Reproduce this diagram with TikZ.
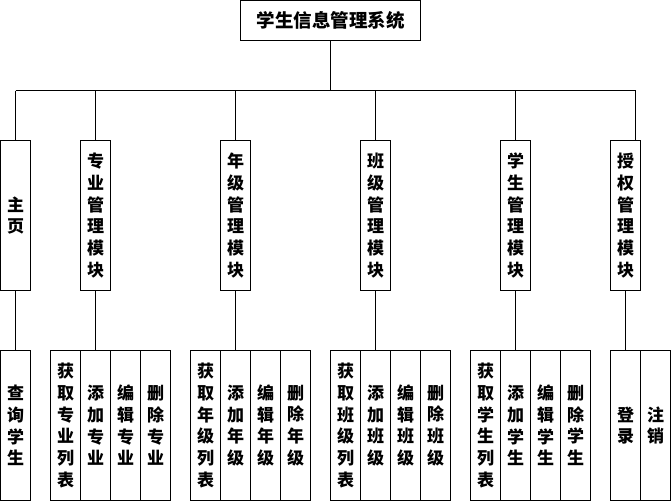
\documentclass[tikz,border=0pt]{standalone}
\usepackage{fontspec}
\newfontfamily\cjk{Noto Sans CJK SC}
\begin{document}
\begin{tikzpicture}[x=1pt,y=-1pt,line width=1pt,
  vbox/.style={draw,line width=1pt,inner sep=0pt,outer sep=0pt,
    minimum width=30pt,minimum height=150pt,align=center,
    font=\cjk\bfseries\fontsize{17}{21.7}\selectfont},
  rootbox/.style={draw,line width=1pt,inner sep=0pt,outer sep=0pt,
    minimum width=180pt,minimum height=40pt,
    font=\cjk\bfseries\fontsize{18.5}{20}\selectfont},
  link/.style={draw,line width=1pt}]
\useasboundingbox (0,0) rectangle (671,501);
\node[rootbox] (root) at (330.5,20.5) {学生信息管理系统};
% level 2
\node[vbox] (zhu) at (15.5,215.5) {主\\页};
\node[vbox] (zy) at (95.5,215.5) {专\\业\\管\\理\\模\\块};
\node[vbox] (nj) at (235.5,215.5) {年\\级\\管\\理\\模\\块};
\node[vbox] (bj) at (375.5,215.5) {班\\级\\管\\理\\模\\块};
\node[vbox] (xs) at (515.5,215.5) {学\\生\\管\\理\\模\\块};
\node[vbox] (sq) at (625.5,215.5) {授\\权\\管\\理\\模\\块};
% level 3
\node[vbox] (cx) at (15.5,425.5) {查\\询\\学\\生};
\node[vbox] (zy1) at (65.5,425.5) {获\\取\\专\\业\\列\\表};
\node[vbox] (zy2) at (95.5,425.5) {添\\加\\专\\业};
\node[vbox] (zy3) at (125.5,425.5) {编\\辑\\专\\业};
\node[vbox] (zy4) at (155.5,425.5) {删\\除\\专\\业};
\node[vbox] (nj1) at (205.5,425.5) {获\\取\\年\\级\\列\\表};
\node[vbox] (nj2) at (235.5,425.5) {添\\加\\年\\级};
\node[vbox] (nj3) at (265.5,425.5) {编\\辑\\年\\级};
\node[vbox] (nj4) at (295.5,425.5) {删\\除\\年\\级};
\node[vbox] (bj1) at (345.5,425.5) {获\\取\\班\\级\\列\\表};
\node[vbox] (bj2) at (375.5,425.5) {添\\加\\班\\级};
\node[vbox] (bj3) at (405.5,425.5) {编\\辑\\班\\级};
\node[vbox] (bj4) at (435.5,425.5) {删\\除\\班\\级};
\node[vbox] (xs1) at (485.5,425.5) {获\\取\\学\\生\\列\\表};
\node[vbox] (xs2) at (515.5,425.5) {添\\加\\学\\生};
\node[vbox] (xs3) at (545.5,425.5) {编\\辑\\学\\生};
\node[vbox] (xs4) at (575.5,425.5) {删\\除\\学\\生};
\node[vbox] (dl) at (625.5,425.5) {登\\录};
\node[vbox] (zx) at (655.5,425.5) {注\\销};
% bus
\coordinate (j) at (330.5,90.5);
\coordinate (h1) at (15.5,90.5);
\coordinate (h6) at (635.5,90.5);
\draw[link] (root.south) -- (j);
\draw[link] (h1) -- (h6);
\draw[link] (h1) -- (zhu.north);
\draw[link] (zy.north |- j) -- (zy.north);
\draw[link] (nj.north |- j) -- (nj.north);
\draw[link] (bj.north |- j) -- (bj.north);
\draw[link] (xs.north |- j) -- (xs.north);
\draw[link] (h6) -- (h6 |- sq.north);
% level 2 to 3
\draw[link] (zhu.south) -- (cx.north);
\draw[link] (zy.south) -- (zy2.north);
\draw[link] (nj.south) -- (nj2.north);
\draw[link] (bj.south) -- (bj2.north);
\draw[link] (xs.south) -- (xs2.north);
\draw[link] (sq.south) -- (dl.north);
\end{tikzpicture}
\end{document}
